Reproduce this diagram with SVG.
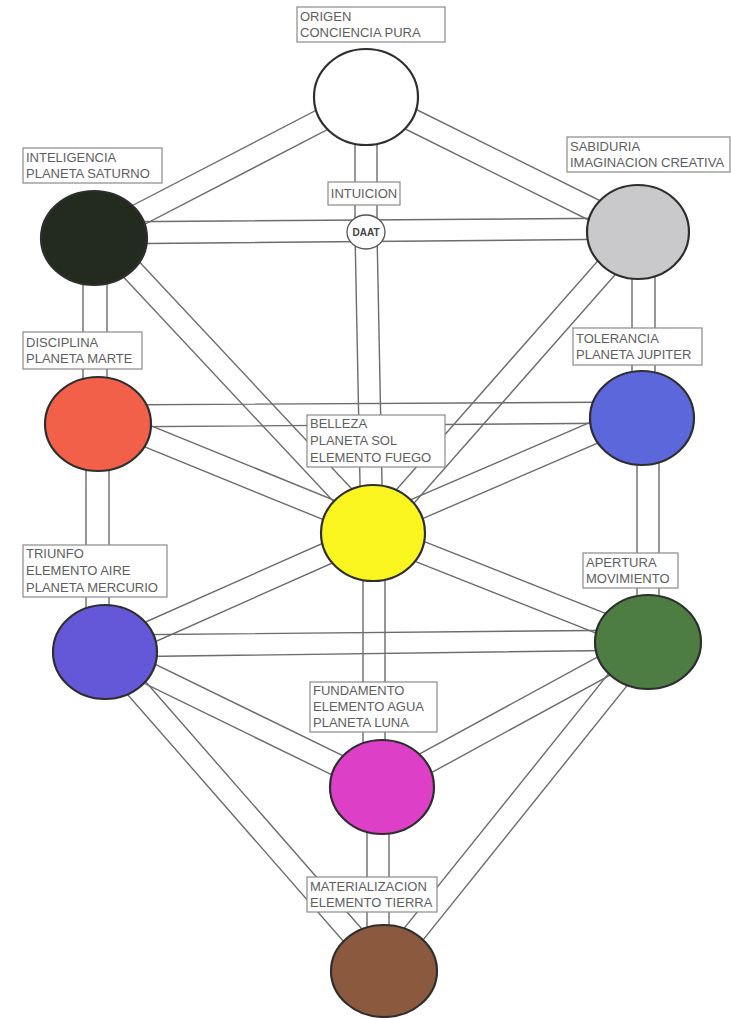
<svg xmlns="http://www.w3.org/2000/svg" width="731" height="1018" viewBox="0 0 731 1018">
<style>
.e{fill:none;stroke:#6c6c6c;stroke-width:1.4}
.nd{stroke:#2e2e2e;stroke-width:2.2}
.lb{fill:#ffffff;stroke:#8a8a8a;stroke-width:1.2}
.tx{font-family:"Liberation Sans",Arial,sans-serif;font-size:13px;fill:#5e5e5e}
.dt{font-family:"Liberation Sans",Arial,sans-serif;font-size:10px;font-weight:bold;fill:#444;text-anchor:middle}
</style>
<rect width="731" height="1018" fill="#ffffff"/>
<g id="connectors">
<path id="c1" class="e" d="M361,87 L89,228 M371,107 L99,248"/>
<path id="c2" class="e" d="M361,107 L633,242 M371,87 L643,222"/>
<path id="c3" class="e" d="M355,97 L355,232 L361,533 M377,97 L377,232 L383,533"/>
<path id="c4" class="e" d="M94,222 L638,218 M94,244 L638,239"/>
<path id="c5" class="e" d="M94,245.5 L370,540.5 M110,230.5 L386,525.5"/>
<path id="c6" class="e" d="M629.7,224.7 L364.7,525.7 M646.3,239.3 L381.3,540.3"/>
<path id="c7" class="e" d="M83,238 L83,424 M107,238 L107,424"/>
<path id="c8" class="e" d="M632,232 L632,418 M655,232 L655,418"/>
<path id="c9" class="e" d="M98,405 L642,402 M98,427 L642,423"/>
<path id="c10" class="e" d="M93.9,426.2 L368.9,538.2 M102.2,405.8 L377.2,517.8"/>
<path id="c11" class="e" d="M637.6,401.9 L368.6,517.9 M646.4,422.1 L377.4,538.1"/>
<path id="c12" class="e" d="M86,424 L86,652 M109,424 L109,652"/>
<path id="c13" class="e" d="M637,418 L637,642 M659,418 L659,642"/>
<path id="c14" class="e" d="M368.5,523 L100.5,642 M377.5,543 L109.5,662"/>
<path id="c15" class="e" d="M369,543.2 L644,652.2 M377,522.8 L652,631.8"/>
<path id="c16" class="e" d="M363,533 L363,787 M385,533 L385,787"/>
<path id="c17" class="e" d="M105,635 L648,630 M105,657 L648,650"/>
<path id="c18" class="e" d="M100.2,661.9 L377.2,796.9 M109.8,642.1 L386.8,777.1"/>
<path id="c19" class="e" d="M642.7,632.3 L376.7,777.3 M653.3,651.7 L387.3,796.7"/>
<path id="c20" class="e" d="M96.7,659.2 L375.7,978.2 M113.3,644.8 L392.3,963.8"/>
<path id="c21" class="e" d="M639.4,635.1 L375.4,964.1 M656.6,648.9 L392.6,977.9"/>
<path id="c22" class="e" d="M367,787 L367,971 M389,787 L389,971"/>
</g>
<g id="node-origen">
<ellipse class="nd" cx="366" cy="97" rx="52" ry="48" fill="#ffffff" stroke-width="2.8"/>
<rect class="lb" x="297" y="7" width="148" height="35"/>
<text class="tx" x="300" y="21">ORIGEN</text>
<text class="tx" x="300" y="37">CONCIENCIA PURA</text>
</g>
<g id="node-inteligencia">
<ellipse class="nd" cx="94" cy="238" rx="53" ry="47" fill="#222b1e"/>
<rect class="lb" x="23" y="148" width="139" height="35"/>
<text class="tx" x="26" y="162">INTELIGENCIA</text>
<text class="tx" x="26" y="178">PLANETA SATURNO</text>
</g>
<g id="node-sabiduria">
<ellipse class="nd" cx="638" cy="232" rx="51" ry="47" fill="#c9c9cc"/>
<rect class="lb" x="567" y="137" width="163" height="35"/>
<text class="tx" x="570" y="151">SABIDURIA</text>
<text class="tx" x="570" y="167">IMAGINACION CREATIVA</text>
</g>
<g id="node-daat">
<rect class="lb" x="328" y="182" width="72" height="23"/>
<text class="tx" x="364" y="198" text-anchor="middle">INTUICION</text>
<ellipse cx="366" cy="232" rx="19" ry="17" fill="#ffffff" stroke="#555" stroke-width="1.3"/>
<text class="dt" x="366" y="236">DAAT</text>
</g>
<g id="node-disciplina">
<ellipse class="nd" cx="98" cy="424" rx="53" ry="47" fill="#f2604a"/>
<rect class="lb" x="23" y="332" width="119" height="37"/>
<text class="tx" x="26" y="347">DISCIPLINA</text>
<text class="tx" x="26" y="363">PLANETA MARTE</text>
</g>
<g id="node-tolerancia">
<ellipse class="nd" cx="642" cy="418" rx="52" ry="47" fill="#5b67da"/>
<rect class="lb" x="573" y="328" width="129" height="37"/>
<text class="tx" x="576" y="343">TOLERANCIA</text>
<text class="tx" x="576" y="359">PLANETA JUPITER</text>
</g>
<g id="node-belleza">
<ellipse class="nd" cx="373" cy="533" rx="52" ry="48" fill="#fbf51f"/>
<rect class="lb" x="307" y="415" width="138" height="52"/>
<text class="tx" x="310" y="428">BELLEZA</text>
<text class="tx" x="310" y="445">PLANETA SOL</text>
<text class="tx" x="310" y="462">ELEMENTO FUEGO</text>
</g>
<g id="node-triunfo">
<ellipse class="nd" cx="105" cy="652" rx="52" ry="47" fill="#6558d8"/>
<rect class="lb" x="23" y="545" width="144" height="52"/>
<text class="tx" x="26" y="558">TRIUNFO</text>
<text class="tx" x="26" y="575">ELEMENTO AIRE</text>
<text class="tx" x="26" y="592">PLANETA MERCURIO</text>
</g>
<g id="node-apertura">
<ellipse class="nd" cx="648" cy="642" rx="53" ry="47" fill="#4e7d43"/>
<rect class="lb" x="583" y="553" width="95" height="35"/>
<text class="tx" x="586" y="567">APERTURA</text>
<text class="tx" x="586" y="583">MOVIMIENTO</text>
</g>
<g id="node-fundamento">
<ellipse class="nd" cx="382" cy="787" rx="52" ry="47" fill="#dd40c6"/>
<rect class="lb" x="310" y="682" width="127" height="50"/>
<text class="tx" x="313" y="695">FUNDAMENTO</text>
<text class="tx" x="313" y="711">ELEMENTO AGUA</text>
<text class="tx" x="313" y="727">PLANETA LUNA</text>
</g>
<g id="node-materializacion">
<ellipse class="nd" cx="384" cy="971" rx="53" ry="46" fill="#8a593e"/>
<rect class="lb" x="307" y="877" width="130" height="35"/>
<text class="tx" x="310" y="891">MATERIALIZACION</text>
<text class="tx" x="310" y="907">ELEMENTO TIERRA</text>
</g>
</svg>
